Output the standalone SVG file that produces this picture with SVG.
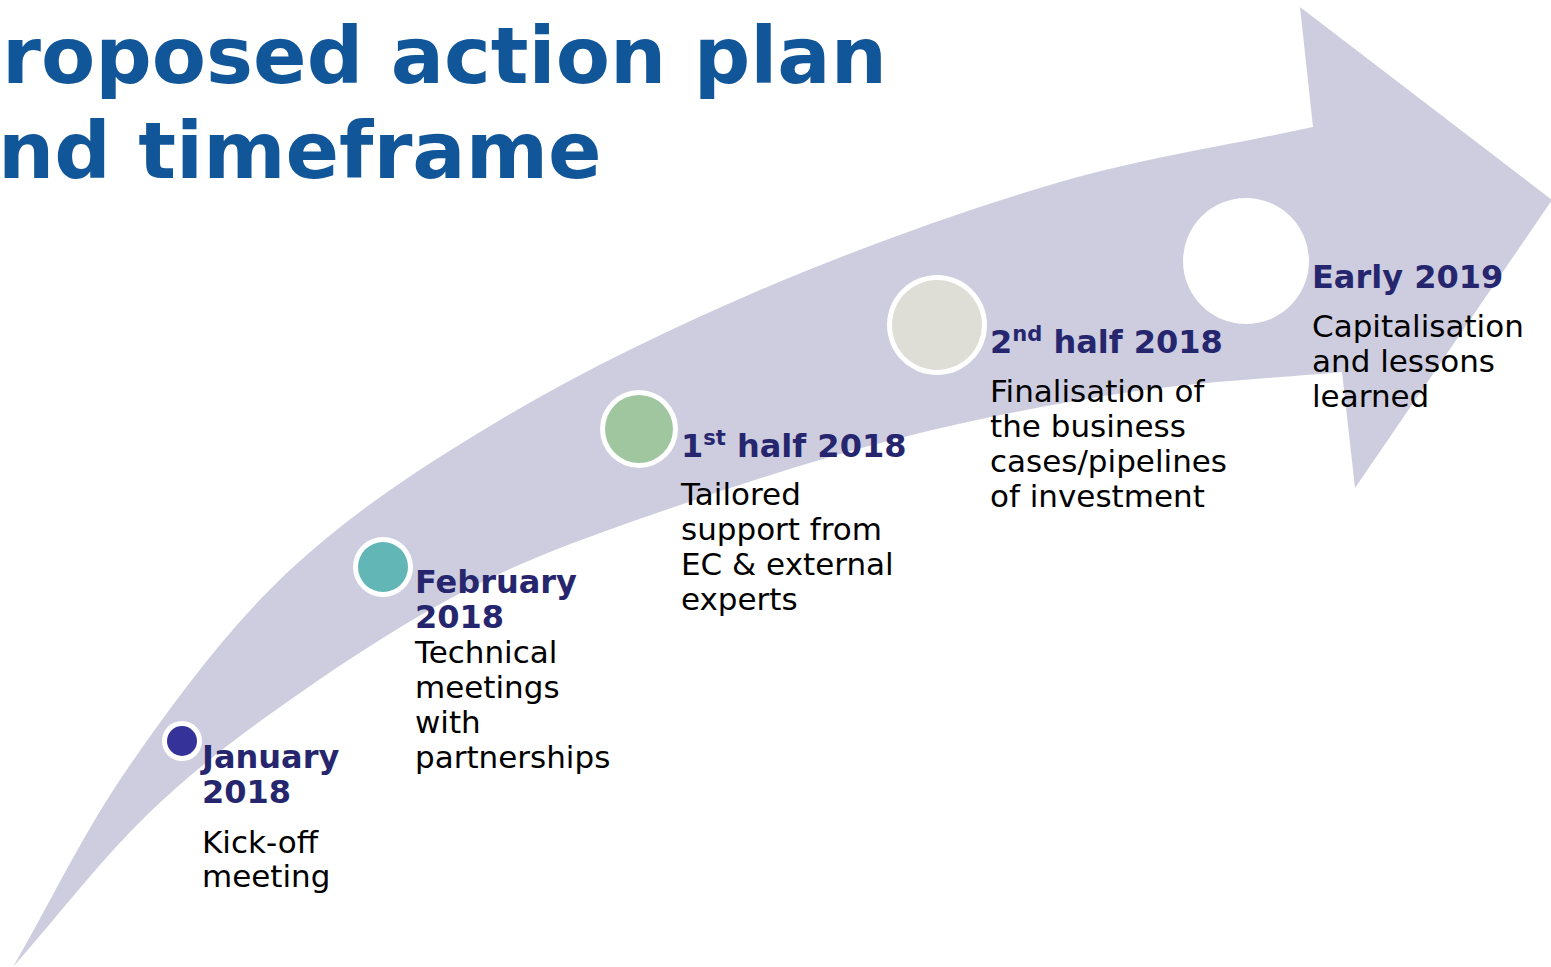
<svg xmlns="http://www.w3.org/2000/svg" width="1551" height="967" viewBox="0 0 1551 967">
<style>
.title{font-family:"DejaVu Sans","Verdana",sans-serif;font-weight:bold;font-size:79px;fill:#12569A}
.date{font-family:"DejaVu Sans","Verdana",sans-serif;font-weight:bold;font-size:32px;fill:#26266E}
.body{font-family:"DejaVu Sans","Verdana",sans-serif;font-size:31px;fill:#000}
.ring{fill:#FFFFFF}
</style>
<rect width="1551" height="967" fill="#FFFFFF"/>
<g id="title">
<text class="title" x="2" y="83">roposed action plan</text>
<text class="title" x="-2" y="178">nd timeframe</text>
</g>
<g id="connectors">
<path id="arrow" fill="#CDCDDF" d="M13,967 C52,899.7 83.8,831.2 130,765 C176.2,698.8 228.3,627.5 290,570 C351.7,512.5 421.7,466.7 500,420 C578.3,373.3 668.3,329.2 760,290 C851.7,250.8 957.8,212.2 1050,185 C1142.2,157.8 1225.3,146.3 1313,127 L1300,7 L1552,200 L1355,488 L1342,372 C1271.3,378.7 1203.7,381 1130,392 C1056.3,403 975,419.2 900,438 C825,456.8 750,480.8 680,505 C610,529.2 543.3,551.7 480,583 C416.7,614.3 355,654.8 300,693 C245,731.2 197.8,766.3 150,812 C102.2,857.7 58.7,915.3 13,967 Z"/>
</g>
<g id="node-jan">
<circle class="ring" cx="182" cy="741" r="20"/>
<circle cx="182" cy="741" r="15" fill="#35339A"/>
<text class="date" x="202" y="768">January</text>
<text class="date" x="202" y="803">2018</text>
<text class="body" x="202" y="853">Kick-off</text>
<text class="body" x="202" y="887">meeting</text>
</g>
<g id="node-feb">
<circle class="ring" cx="383" cy="567" r="30"/>
<circle cx="383" cy="567" r="25" fill="#62B6B5"/>
<text class="date" x="415" y="593">February</text>
<text class="date" x="415" y="628">2018</text>
<text class="body" x="415" y="663">Technical</text>
<text class="body" x="415" y="698">meetings</text>
<text class="body" x="415" y="733">with</text>
<text class="body" x="415" y="768">partnerships</text>
</g>
<g id="node-h1">
<circle class="ring" cx="639" cy="429" r="39"/>
<circle cx="639" cy="429" r="34" fill="#A0C6A0"/>
<text class="date" x="681" y="457">1<tspan font-size="21" dy="-12">st</tspan><tspan dy="12"> half 2018</tspan></text>
<text class="body" x="681" y="505">Tailored</text>
<text class="body" x="681" y="540">support from</text>
<text class="body" x="681" y="575">EC &amp; external</text>
<text class="body" x="681" y="610">experts</text>
</g>
<g id="node-h2">
<circle class="ring" cx="937" cy="325" r="50"/>
<circle cx="937" cy="325" r="45" fill="#DEDED6"/>
<text class="date" x="990" y="353">2<tspan font-size="21" dy="-12">nd</tspan><tspan dy="12"> half 2018</tspan></text>
<text class="body" x="990" y="402">Finalisation of</text>
<text class="body" x="990" y="437">the business</text>
<text class="body" x="990" y="472">cases/pipelines</text>
<text class="body" x="990" y="507">of investment</text>
</g>
<g id="node-2019">
<circle class="ring" cx="1246" cy="261" r="63"/>
<text class="date" x="1312" y="288">Early 2019</text>
<text class="body" x="1312" y="337">Capitalisation</text>
<text class="body" x="1312" y="372">and lessons</text>
<text class="body" x="1312" y="407">learned</text>
</g>
</svg>
